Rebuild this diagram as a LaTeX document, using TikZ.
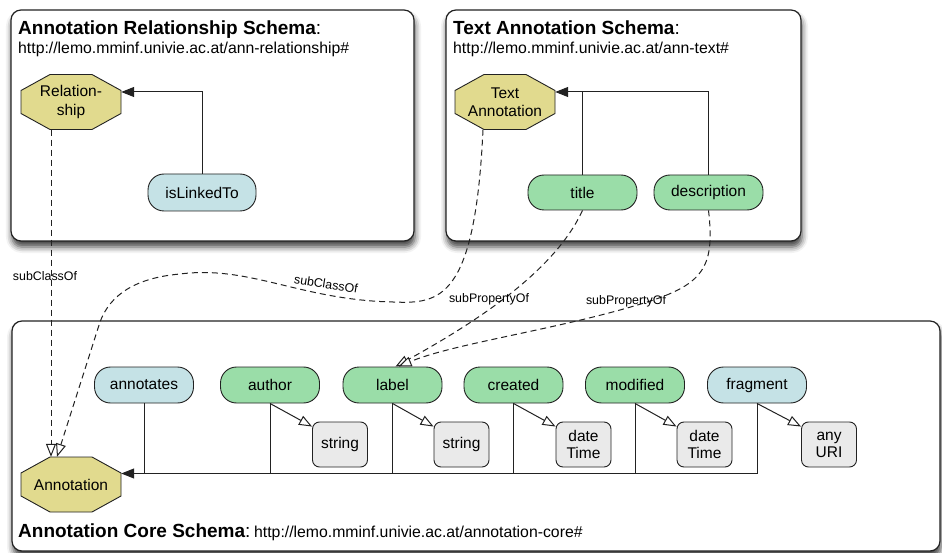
\documentclass[tikz,border=0pt]{standalone}
\usepackage{fontspec}
\setmainfont{Liberation Sans}
\usetikzlibrary{arrows.meta,calc,shadows.blur}
\definecolor{octfill}{HTML}{E1DA8E}
\definecolor{greenfill}{HTML}{9ADDA8}
\definecolor{bluefill}{HTML}{C5E2E6}
\definecolor{grayfill}{HTML}{EAEAEA}
\definecolor{edgecol}{HTML}{222222}
\newcommand\nodefont{\fontsize{15.5}{18.5}\selectfont}
\newcommand\titlefont{\fontsize{19}{22}\selectfont}
\newcommand\urlfont{\fontsize{15.8}{18}\selectfont}
\newcommand\octo[1]{\filldraw[octshape] ($(#1)+(-21,-27.5)$) -- ($(#1)+(21,-27.5)$) -- ($(#1)+(50,-11.5)$) -- ($(#1)+(50,11.5)$) -- ($(#1)+(21,27.5)$) -- ($(#1)+(-21,27.5)$) -- ($(#1)+(-50,11.5)$) -- ($(#1)+(-50,-11.5)$) -- cycle;}
\begin{document}
\begin{tikzpicture}[x=1pt,y=-1pt,
 schemabox/.style={draw=edgecol, line width=1.2pt, fill=white, rounded corners=10pt, inner sep=0pt,
   blur shadow={shadow xshift=1pt, shadow yshift=-6pt, shadow blur radius=6pt, shadow opacity=75}},
 octshape/.style={draw=edgecol, line width=0.9pt, fill=octfill},
 octtext/.style={minimum width=100pt, minimum height=55pt, inner sep=0pt, font=\nodefont, align=center},
 prop/.style={draw=edgecol, line width=0.9pt, rounded corners=16pt, minimum height=36pt, minimum width=99pt, inner sep=0pt, font=\nodefont},
 gprop/.style={prop, fill=greenfill},
 bprop/.style={prop, fill=bluefill},
 dtype/.style={draw=edgecol, line width=0.9pt, fill=grayfill, rounded corners=7pt, minimum width=55pt, minimum height=45pt, inner sep=0pt, font=\nodefont, align=center},
 solidline/.style={draw=edgecol, line width=1pt},
 dashline/.style={draw=edgecol, line width=1pt, dash pattern=on 6pt off 4pt},
 fillhead/.style={-{Triangle[length=13pt,width=10pt]}},
 openhead/.style={-{Triangle[open,length=13pt,width=10pt,fill=white]}},
 elabel/.style={inner sep=0pt, font=\fontsize{12.4}{14}\selectfont},
 ttl/.style={anchor=base west, inner sep=0pt}
]
\useasboundingbox (0,0) rectangle (942,553);

% schema boxes
\node[schemabox, minimum width=403pt, minimum height=231pt] (boxrel) at (212.5,125.5) {};
\node[schemabox, minimum width=355pt, minimum height=231pt] (boxtext) at (623.5,125.5) {};
\node[schemabox, minimum width=928pt, minimum height=230pt] (boxcore) at (476,436) {};

% titles
\node[ttl] (t1) at (18,35) {\titlefont\bfseries Annotation Relationship Schema\mdseries:};
\node[ttl, font=\urlfont] (u1) at (18,54) {http://lemo.mminf.univie.ac.at/ann-relationship\#};
\node[ttl] (t2) at (453,35) {\titlefont\bfseries Text Annotation Schema\mdseries:};
\node[ttl, font=\urlfont] (u2) at (453,54) {http://lemo.mminf.univie.ac.at/ann-text\#};
\node[ttl] (t3) at (18,537) {{\titlefont\bfseries Annotation Core Schema}{\titlefont:} {\urlfont http://lemo.mminf.univie.ac.at/annotation-core\#}};

% octagon classes
\coordinate (relc) at (71,102);
\octo{relc}
\node[octtext] (rel) at (relc) {Relation-\\ship};
\coordinate (tannc) at (505,102);
\octo{tannc}
\node[octtext] (tann) at (tannc) {Text\\Annotation};
\coordinate (annc) at (71,484.5);
\octo{annc}
\node[octtext] (ann) at (annc) {Annotation};

% properties
\node[bprop, minimum width=108pt, minimum height=37pt] (isl) at (202,192.5) {isLinkedTo};
\node[gprop, minimum width=109pt, minimum height=35pt] (title) at (582.5,192.5) {title};
\node[gprop, minimum width=109pt, minimum height=35pt] (desc) at (708.5,192.5) {description};

\node[bprop] (annot) at (144,385) {annotates};
\node[gprop] (author) at (270,385) {author};
\node[gprop] (label) at (392.5,385) {label};
\node[gprop] (created) at (513.5,385) {created};
\node[gprop] (modified) at (635,385) {modified};
\node[bprop] (frag) at (757,385) {fragment};

% datatypes
\node[dtype] (str1) at (340,444.5) {string};
\node[dtype] (str2) at (461.5,444.5) {string};
\node[dtype] (dt1) at (583.5,444.5) {date\\[-1.5pt]Time};
\node[dtype] (dt2) at (704.5,444.5) {date\\[-1.5pt]Time};
\node[dtype] (uri) at (829,444.5) {any\\[-1.5pt]URI};

% domain connectors
\draw[solidline, fillhead] (isl.north) |- ([yshift=10pt]rel.east);
\coordinate (tabus) at ([yshift=10pt]tann.east);
\draw[solidline, fillhead] (desc.north) |- (tabus);
\draw[solidline] (title.north) -- (title.north |- tabus);

\coordinate (bus) at ([yshift=11pt]ann.east);
\draw[solidline, fillhead] (frag.south) |- (bus);
\foreach \p in {annot,author,label,created,modified}
  \draw[solidline] (\p.south) -- (\p.south |- bus);

% range connectors
\draw[solidline, openhead] (author.south) -- ([yshift=-5pt]str1.north west);
\draw[solidline, openhead] (label.south) -- ([yshift=-5pt]str2.north west);
\draw[solidline, openhead] (created.south) -- ([yshift=-5pt]dt1.north west);
\draw[solidline, openhead] (modified.south) -- ([yshift=-5pt]dt2.north west);
\draw[solidline, openhead] (frag.south) -- ([yshift=-5pt]uri.north west);

% subclass / subproperty connectors
\draw[dashline, openhead] ([xshift=-20pt]rel.south) -- ([xshift=-20pt]ann.north);
\draw[dashline, openhead] ([xshift=-22pt]tann.south) .. controls (475,300) and (440,304) .. (393,302)
   .. controls (300,300) and (250,265) .. (180,274)
   .. controls (135,278) and (110,295) .. (100,322) -- ([xshift=-14pt]ann.north);
\draw[dashline, openhead] (title.south) .. controls (555,270) and (480,320) .. ([xshift=3pt]label.north);
\draw[dashline, openhead] (desc.south) .. controls (716,275) and (700,288) .. (620,310)
   .. controls (540,332) and (450,345) .. ([xshift=6pt]label.north);

\node[elabel] (lsc1) at (45,276) {subClassOf};
\node[elabel, rotate=-9] (lsc2) at (326,284) {subClassOf};
\node[elabel] (lsp1) at (489,299) {subPropertyOf};
\node[elabel] (lsp2) at (626,301) {subPropertyOf};
\end{tikzpicture}
\end{document}
